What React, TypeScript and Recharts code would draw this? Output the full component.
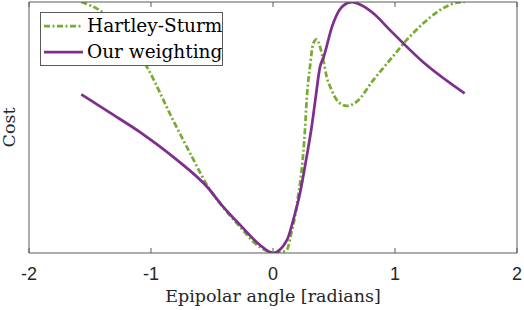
import { LineChart, Line, XAxis, YAxis, Legend } from 'recharts'

// Hartley-Sturm cost vs epipolar angle
const hsAngle = [
  -1.571, -1.4, -1.033, -0.82, -0.68, -0.516, -0.41, -0.27, -0.131, 0.025, 0.112, 0.153, 0.18, 0.205,
  0.235, 0.262, 0.276, 0.303, 0.33, 0.358, 0.385, 0.412, 0.44, 0.481, 0.522, 0.604, 0.686, 0.822,
  0.959, 1.096, 1.232, 1.369, 1.506, 1.571,
]
const hsCost = [
  100, 96, 74.1, 53, 39.8, 25.1, 18.3, 10.4, 3.2, 0, 1.2, 8.5, 14.5, 22.4,
  33.1, 49, 61, 74.2, 83.5, 85.1, 82.2, 76.9, 70.2, 64.9, 61, 58.6, 60.3, 68.9,
  76.9, 84.9, 91.5, 96.8, 99.7, 100,
]

// our weighting
const owAngle = [
  -1.571, -1.35, -1.076, -0.803, -0.53, -0.42, -0.27, -0.107, 0, 0.115, 0.166, 0.221, 0.276,
  0.317, 0.347, 0.385, 0.416, 0.484, 0.566, 0.648, 0.73, 0.822, 0.959, 1.232, 1.571,
]
const owCost = [
  63.2, 56.3, 47.7, 37.7, 25.8, 19.1, 11.2, 3.2, 0, 5.2, 13.1, 23.8, 38.4,
  50.3, 61, 74.1, 78.2, 90.2, 98.1, 100, 98.6, 95.5, 88.8, 76, 63.6,
]

const xTicks = [-2, -1, 0, 1, 2]

const hsData = hsAngle.map((x, i) => ({ x, cost: hsCost[i] }))
const owData = owAngle.map((x, i) => ({ x, cost: owCost[i] }))

const AXIS = '#5a5a5a'
const SERIF = '"DejaVu Serif", serif'
const GREEN = '#77AC30'
const PURPLE = '#7E2F8E'
const HS_DASH = '6 2.5 2 2.5'

function BottomTick(props: any) {
  const { x, y, payload } = props
  return (
    <g>
      <line x1={x} y1={y} x2={x} y2={y - 5} stroke={AXIS} />
      <text
        x={x}
        y={y + 27}
        textAnchor="middle"
        fontFamily='"Liberation Sans", Arial, sans-serif'
        fontSize={18}
        fill="#262626"
      >
        {payload.value}
      </text>
    </g>
  )
}

function TopTick(props: any) {
  const { x, y } = props
  return <line x1={x} y1={y} x2={x} y2={y + 5} stroke={AXIS} />
}

function LegendBox({ payload }: any) {
  return (
    <div
      style={{
        border: `1px solid ${AXIS}`,
        background: '#fff',
        width: 181,
        height: 52,
      }}
    >
      {(payload || []).map((entry: any) => (
        <div
          key={entry.value}
          style={{ display: 'flex', alignItems: 'center', height: 26, whiteSpace: 'nowrap' }}
        >
          <svg width={46} height={10} style={{ display: 'block', flexShrink: 0 }}>
            <line
              x1={3}
              x2={42}
              y1={5}
              y2={5}
              stroke={entry.color}
              strokeWidth={2.75}
              strokeDasharray={entry.value === 'Hartley-Sturm' ? HS_DASH : undefined}
            />
          </svg>
          <span style={{ fontFamily: SERIF, fontSize: 18.5, lineHeight: '26px', color: '#000' }}>
            {entry.value}
          </span>
        </div>
      ))}
    </div>
  )
}

export default function App() {
  return (
    <div style={{ position: 'absolute', left: 0, top: 0, background: '#fff' }}>
      <LineChart width={524} height={310} margin={{ top: 1, right: 6, left: 0, bottom: 0 }}>
        <XAxis
          xAxisId="b"
          type="number"
          dataKey="x"
          domain={[-2, 2]}
          ticks={xTicks}
          allowDataOverflow
          height={57}
          tickSize={0}
          tickMargin={0}
          tickLine={false}
          tick={<BottomTick />}
          axisLine={{ stroke: AXIS }}
          label={{
            value: 'Epipolar angle [radians]',
            position: 'insideBottom',
            offset: 8,
            style: { fontFamily: SERIF, fontSize: 17.5, fill: '#262626' },
          }}
        />
        <XAxis
          xAxisId="t"
          orientation="top"
          type="number"
          dataKey="x"
          domain={[-2, 2]}
          ticks={xTicks}
          allowDataOverflow
          height={1}
          tickSize={0}
          tickMargin={0}
          tickLine={false}
          tick={<TopTick />}
          axisLine={{ stroke: AXIS }}
        />
        <YAxis
          yAxisId="c"
          type="number"
          domain={[0, 100]}
          allowDataOverflow
          width={29}
          tick={false}
          tickLine={false}
          axisLine={{ stroke: AXIS }}
          label={{
            value: 'Cost',
            angle: -90,
            position: 'center',
            dx: -6,
            style: { fontFamily: SERIF, fontSize: 17.5, fill: '#262626' },
          }}
        />
        <YAxis
          yAxisId="r"
          orientation="right"
          type="number"
          domain={[0, 100]}
          allowDataOverflow
          width={1}
          tick={false}
          tickLine={false}
          axisLine={{ stroke: AXIS }}
        />
        <Legend
          layout="horizontal"
          verticalAlign="middle"
          align="center"
          content={<LegendBox />}
          wrapperStyle={{ position: 'absolute', left: 40, top: 12, width: 183, height: 54 }}
        />
        <Line
          xAxisId="b"
          yAxisId="c"
          data={hsData}
          dataKey="cost"
          name="Hartley-Sturm"
          type="monotone"
          stroke={GREEN}
          strokeWidth={2.75}
          strokeDasharray={HS_DASH}
          dot={false}
          activeDot={false}
          isAnimationActive={false}
        />
        <Line
          xAxisId="b"
          yAxisId="c"
          data={owData}
          dataKey="cost"
          name="Our weighting"
          type="monotone"
          stroke={PURPLE}
          strokeWidth={2.75}
          dot={false}
          activeDot={false}
          isAnimationActive={false}
        />
      </LineChart>
    </div>
  )
}
